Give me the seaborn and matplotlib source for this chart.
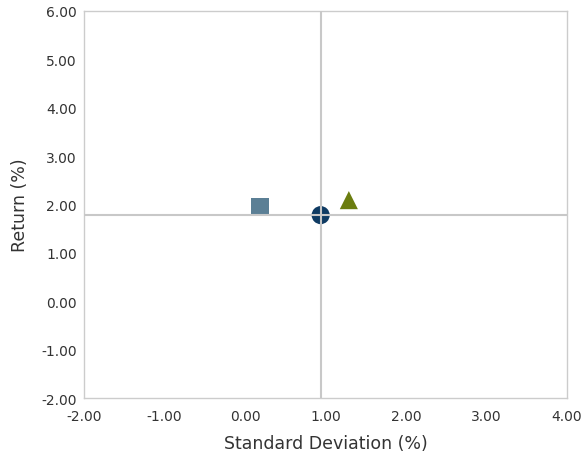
import pandas as pd
import matplotlib.pyplot as plt
import seaborn as sns

# 数据
names = ['Fund', 'Benchmark', 'Peer']
std_dev = [0.19, 0.94, 1.29]
returns = [1.95, 1.78, 2.09]
markers = {'Fund': 's', 'Benchmark': 'o', 'Peer': '^'}
colors = {'Fund': '#5b7f95', 'Benchmark': '#0f3b63', 'Peer': '#6b7d0f'}
x_ticks = [-2, -1, 0, 1, 2, 3, 4]
y_ticks = [-2, -1, 0, 1, 2, 3, 4, 5, 6]

df = pd.DataFrame({'name': names, 'std': std_dev, 'ret': returns})

sns.set_style('white')
plt.rcParams['font.family'] = ['DejaVu Sans']

fig = plt.figure(figsize=(5.86, 4.60), dpi=100)
ax = fig.add_axes([0.1433, 0.1326, 0.8243, 0.8414])

sns.scatterplot(data=df, x='std', y='ret', hue='name', style='name',
                markers=markers, palette=colors, s=170, linewidth=0,
                legend=False, ax=ax, zorder=2)

# 基准十字线
bench = df[df['name'] == 'Benchmark'].iloc[0]
ax.axvline(bench['std'], color='#c8c8c8', lw=1.5, zorder=3)
ax.axhline(bench['ret'], color='#c8c8c8', lw=1.5, zorder=3)

ax.set_xlim(-2, 4)
ax.set_ylim(-2, 6)
ax.set_xticks(x_ticks)
ax.set_yticks(y_ticks)
ax.set_xticklabels([f'{v:.2f}' for v in x_ticks], fontsize=10, color='#333333')
ax.set_yticklabels([f'{v:.2f}' for v in y_ticks], fontsize=10, color='#333333')
ax.tick_params(axis='x', length=0, pad=8)
ax.tick_params(axis='y', length=0, pad=5)
for s in ax.spines.values():
    s.set_color('#cccccc')
    s.set_linewidth(1)

ax.set_xlabel('Standard Deviation (%)', fontsize=12.5, color='#333333', labelpad=8)
ax.set_ylabel('Return (%)', fontsize=12.5, color='#333333', labelpad=9)

plt.savefig('out.png', dpi=100)
